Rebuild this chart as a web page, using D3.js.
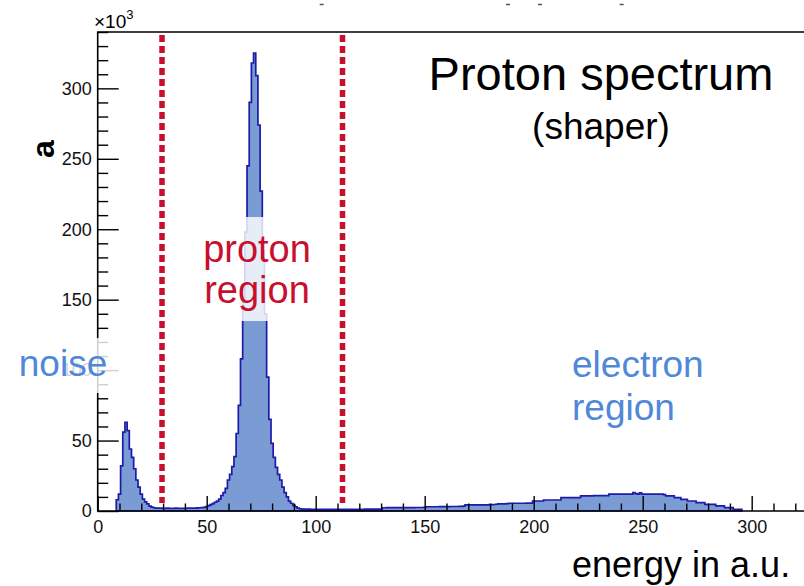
<!DOCTYPE html>
<html>
<head>
<meta charset="utf-8">
<script src="https://cdn.jsdelivr.net/npm/d3@7"></script>
<style>
  body { margin: 0; background: #fff; overflow: hidden; }
  svg { display: block; font-family: "Liberation Sans", Arial, sans-serif; }
</style>
</head>
<body>
<script>
// histogram: 1 a.u. bins, first bin centred on 9
var binStart = 8.5, binWidth = 1;
var counts = [
  8, 12, 32, 56, 63, 57, 44, 38, 30, 22,            // 9-18
  17, 12, 8.5, 6.5, 5, 3.5, 2.8, 2.3, 2.1, 2.0,     // 19-28
  2.0, 1.9, 1.9, 2.0, 1.9, 1.9, 1.9, 2.0, 1.9, 1.9, // 29-38
  1.9, 1.9, 2.0, 2.0, 2.0, 2.1, 2.1, 2.2, 2.3, 2.4, // 39-48
  2.6, 3.2, 3.8, 4.5, 5.2, 6.2, 7, 8.5, 11, 13,     // 49-58
  16, 22, 26, 31.5, 38.6, 55, 75, 108, 150, 198,    // 59-68
  245, 290, 318, 325, 309, 274, 227, 185, 140, 95,  // 69-78
  65, 48, 38, 31, 26, 22, 17, 13, 10, 7,            // 79-88
  5.5, 4, 3, 2, 1.6, 1.4, 1.3, 1.3, 1.3, 1.2,       // 89-98
  1.2, 1.2, 1.2, 1.2, 1.2, 1.2, 1.2, 1.2, 1.2, 1.2, // 99-108
  1.2, 1.2, 1.2, 1.2, 1.2, 1.2, 1.2, 1.2, 1.2, 1.2, // 109-118
  1.2, 1.2, 1.2, 1.2, 1.3, 1.3, 1.3, 1.3, 1.3, 1.3, // 119-128
  1.3, 1.3, 2.3, 2.3, 2.4, 2.4, 2.4, 2.4, 2.4, 2.4, // 129-138
  2.4, 2.4, 2.4, 2.4, 2.4, 2.4, 2.4, 2.5, 2.5, 2.5, // 139-148
  2.5, 2.6, 3.0, 3.0, 3.0, 3.0, 3.0, 3.0, 3.1, 3.1, // 149-158
  3.1, 3.1, 3.1, 3.2, 3.2, 3.2, 3.2, 3.3, 3.3, 3.4, // 159-168
  4.3, 4.3, 4.3, 4.3, 4.3, 4.3, 4.3, 4.4, 4.4, 4.4, // 169-178
  4.4, 4.5, 4.5, 4.6, 4.8, 5.0, 5.0, 5.0, 5.1, 5.2, // 179-188
  5.5, 5.5, 5.5, 5.5, 5.5, 5.5, 5.5, 5.5, 5.6, 5.6, // 189-198
  5.6, 7.1, 7.1, 7.1, 7.1, 7.1, 7.8, 7.8, 7.8, 7.8, // 199-208
  7.8, 7.8, 7.8, 7.8, 9.5, 9.5, 9.5, 9.5, 9.5, 9.5, // 209-218
  9.5, 9.5, 9.5, 10.7, 10.7, 10.7, 10.7, 10.7, 10.7, 10.9, // 219-228
  10.9, 10.9, 10.9, 10.9, 10.9, 10.9, 12, 12, 12, 12,      // 229-238
  12, 12, 12, 12, 12, 12, 12, 13, 12.3, 12,                // 239-248
  12.8, 12, 12, 12, 12, 12, 12, 12, 12, 12,                // 249-258
  12, 11.6, 10.7, 10.7, 10.7, 10.7, 9.5, 9.5, 9.5, 8.3,    // 259-268
  8.3, 8.3, 7.1, 7.1, 7.1, 7.1, 5.9, 5.9, 5.9, 5.9,        // 269-278
  4.7, 4.7, 4.7, 4.7, 4.7, 3.6, 3.6, 3.6, 3.6, 2.4,        // 279-288
  2.4, 2.4, 2.4, 1.2, 1.2, 1.2, 1.2                        // 289-295
];
var xMajor = [0, 50, 100, 150, 200, 250, 300];
var yMajor = [0, 50, 100, 150, 200, 250, 300];
var cutLines = [29.5, 112.3];   // proton region borders

var W = 804, H = 586;
var plot = {left: 97.7, top: 32, bottom: 511};

var svg = d3.select("body").append("svg")
    .attr("width", W)
    .attr("height", H);

// scales (frame continues past the right edge of the picture)
var x = d3.scaleLinear().domain([0, 330]).range([plot.left, plot.left + 330 * 2.18]);
var y = d3.scaleLinear().domain([0, 340]).range([plot.bottom, plot.top]);

// histogram as step area
var pts = counts.map(function(v, i) { return {x: binStart + i * binWidth, v: v}; });
pts.push({x: binStart + counts.length * binWidth, v: counts[counts.length - 1]});

var area = d3.area()
    .x(function(d) { return x(d.x); })
    .y0(y(0))
    .y1(function(d) { return y(d.v); })
    .curve(d3.curveStepAfter);

svg.append("path")
    .datum(pts)
    .attr("d", area)
    .attr("fill", "#7b9bd4")
    .attr("stroke", "#1c1ca6")
    .attr("stroke-width", 1.7);

// minor ticks
var xMinor = d3.range(0, 331, 10).filter(function(v) { return v % 50 !== 0; });
var yMinor = d3.range(0, 341, 10).filter(function(v) { return v % 50 !== 0; });

svg.append("g")
    .attr("transform", "translate(0," + plot.bottom + ")")
    .call(d3.axisBottom(x).tickValues(xMinor).tickSize(-7.5).tickFormat(""))
    .call(function(g) { g.select(".domain").remove(); });

svg.append("g")
    .attr("transform", "translate(" + plot.left + ",0)")
    .call(d3.axisLeft(y).tickValues(yMinor).tickSize(-10.5).tickFormat(""))
    .call(function(g) { g.select(".domain").remove(); });

// major ticks + labels
var gx = svg.append("g")
    .attr("transform", "translate(0," + plot.bottom + ")")
    .call(d3.axisBottom(x).tickValues(xMajor).tickSize(-15).tickPadding(9).tickFormat(d3.format("d")));
gx.select(".domain").remove();
gx.selectAll("text").attr("font-size", 18).attr("font-family", "Liberation Sans, Arial, sans-serif").attr("fill", "#111");

var gy = svg.append("g")
    .attr("transform", "translate(" + plot.left + ",0)")
    .call(d3.axisLeft(y).tickValues(yMajor).tickSize(-21).tickPadding(6).tickFormat(d3.format("d")));
gy.select(".domain").remove();
gy.selectAll("text").attr("font-size", 18).attr("font-family", "Liberation Sans, Arial, sans-serif").attr("fill", "#111");

svg.selectAll(".tick line").attr("stroke", "#000").attr("stroke-width", 1.4);

// frame
svg.append("path")
    .attr("d", "M" + W + "," + plot.top + "H" + plot.left + "V" + plot.bottom + "H" + W)
    .attr("fill", "none")
    .attr("stroke", "#000")
    .attr("stroke-width", 1.6);

// x10^3
var ex = svg.append("text").attr("x", 94).attr("y", 28).attr("font-size", 19);
ex.append("tspan").text("×10");
ex.append("tspan").attr("dy", -9).attr("font-size", 13).text("3");

// y title glyph
svg.append("text")
    .attr("transform", "translate(54,149) rotate(-90)")
    .attr("text-anchor", "middle")
    .attr("font-size", 32)
    .attr("font-weight", "bold")
    .text("a");

// remnants of text cut at the top edge
svg.selectAll(".cut").data([321.7, 508, 540, 621.7]).enter().append("line")
    .attr("x1", function(d) { return d - 2; })
    .attr("x2", function(d) { return d + 2; })
    .attr("y1", 4.5).attr("y2", 4.5)
    .attr("stroke", "#555").attr("stroke-width", 1.5);

// proton region borders
svg.selectAll(".cutline").data(cutLines).enter().append("line")
    .attr("x1", function(d) { return x(d); })
    .attr("x2", function(d) { return x(d); })
    .attr("y1", plot.top + 3)
    .attr("y2", 503)
    .attr("stroke", "#c8102e")
    .attr("stroke-width", 5.5)
    .attr("stroke-dasharray", "7,4");

// label boxes
svg.append("rect").attr("x", 5).attr("y", 338).attr("width", 120).attr("height", 55)
    .attr("fill", "#fff").attr("opacity", 0.82);
svg.append("rect").attr("x", 193).attr("y", 217).attr("width", 125).attr("height", 104)
    .attr("fill", "#fff").attr("opacity", 0.82);

// texts
function label(txt, xx, yy, size, color, anchor) {
  svg.append("text").attr("x", xx).attr("y", yy)
    .attr("font-size", size).attr("fill", color)
    .attr("text-anchor", anchor || "start").text(txt);
}
label("Proton spectrum", 601, 90, 47, "#000", "middle");
label("(shaper)", 601, 139, 37, "#000", "middle");
label("proton", 257, 262, 38, "#c8102e", "middle");
label("region", 257, 303, 38, "#c8102e", "middle");
label("noise", 63, 376, 37, "#4f88d8", "middle");
label("electron", 572, 377, 37, "#4f88d8");
label("region", 572, 420, 37, "#4f88d8");
label("energy in a.u.", 572, 577, 36, "#000");
</script>
</body>
</html>
